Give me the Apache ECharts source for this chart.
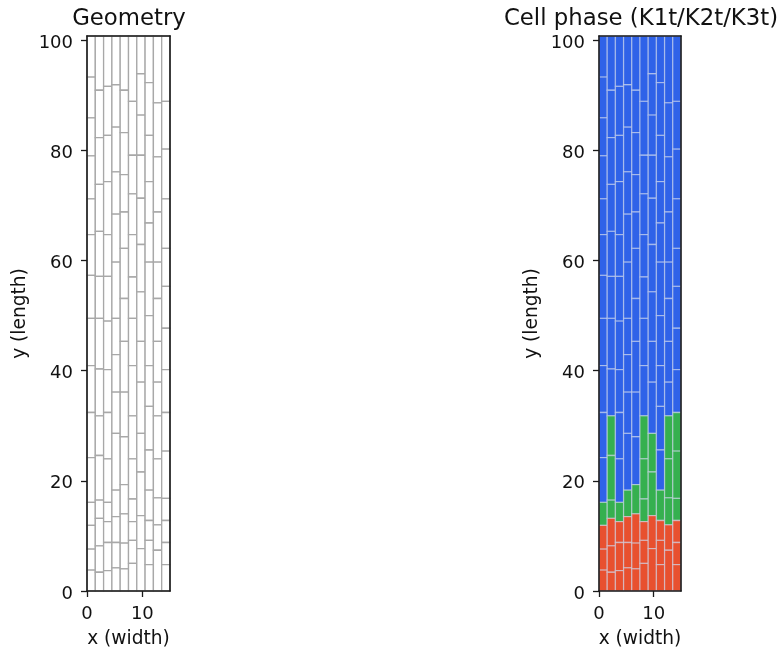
<!DOCTYPE html>
<html><head><meta charset="utf-8">
<script src="https://cdn.jsdelivr.net/npm/echarts@6/dist/echarts.min.js"></script>
<style>html,body{margin:0;padding:0;background:#fff}#c{width:779px;height:651px}</style></head>
<body><div id="c"></div>
<script>
const xTicks=[0,10];
const yTicks=[0,20,40,60,80,100];
const colWidth=1.5;
const col1=[93.3,85.9,79.0,71.2,64.7,57.3,49.5,40.9,32.4,24.2,16.1,11.9,7.6,3.8];
const col2=[90.9,82.3,73.8,65.3,57.1,49.5,40.3,31.8,24.6,16.5,13.2,8.2,3.4];
const col3=[91.6,82.7,74.3,64.7,57.1,49.0,40.2,32.4,24.0,16.1,12.6,8.8,3.7];
const col4=[91.9,84.2,76.1,68.4,59.7,49.5,42.9,36.1,28.6,18.3,13.5,8.8,4.2];
const col5=[90.9,83.2,75.6,68.8,62.2,53.1,45.3,36.1,28.0,19.3,14.0,8.7,4.0];
const col6=[88.9,79.1,72.1,64.7,57.0,49.5,40.9,31.8,24.0,16.7,12.6,9.2,5.0];
const col7=[93.9,86.4,79.1,71.3,62.9,54.3,45.3,37.9,28.6,21.6,13.7,7.7];
const col8=[92.3,82.7,74.3,66.8,59.7,50.0,40.9,33.5,25.6,18.3,12.8,9.2,4.8];
const col9=[88.6,78.8,68.8,59.7,53.1,45.3,37.9,31.8,24.0,16.9,12.0,7.4];
const col10=[88.9,80.2,71.2,62.2,55.3,47.7,40.2,32.4,25.4,16.8,12.8,8.8,4.8];
const k1Tops=[11.9,13.2,12.6,13.5,14.0,12.6,13.7,12.8,12.0,12.8];
const k2Tops=[16.1,31.8,16.1,18.3,19.3,31.8,28.6,18.3,31.8,32.4];
const columns=[col1,col2,col3,col4,col5,col6,col7,col8,col9,col10];
const yMax=100.75, xMax=15;
const phaseColors=['#2f62e8','#35b04f','#e8502f'];

const cells=[];
columns.forEach((c,i)=>{
  const edges=[yMax,...c,0];
  for(let j=0;j<edges.length-1;j++){
    const top=edges[j],bot=edges[j+1];
    const phase=top<=k1Tops[i]?2:top<=k2Tops[i]?1:0;
    cells.push([i*colWidth,(i+1)*colWidth,bot,top,phase]);
  }
});
const render=(filled)=>(params,api)=>{
  const p0=api.coord([api.value(0),api.value(3)]);
  const p1=api.coord([api.value(1),api.value(2)]);
  return {type:'rect',shape:{x:p0[0],y:p0[1],width:p1[0]-p0[0],height:p1[1]-p0[1]},
    style:{fill:filled?phaseColors[api.value(4)]:'#fff',
           stroke:filled?'rgba(205,215,235,0.55)':'#a8a8a8',lineWidth:1.3}};
};
const font='"DejaVu Sans"';
const fs=18.6;
const tickFs=18;
const line={show:true,onZero:false,lineStyle:{color:'#1a1a1a',width:1.6}};
function xAxes(g){return [
 {gridIndex:g,type:'value',min:0,max:xMax,position:'bottom',z:5,axisLine:line,splitLine:{show:false},
  axisTick:{show:true,length:6,inside:false,lineStyle:{color:'#1a1a1a',width:1.3},customValues:xTicks},
  axisLabel:{show:true,customValues:xTicks,fontFamily:font,fontSize:tickFs,color:'#111',margin:14},
  name:'x (width)',nameLocation:'middle',nameGap:39,nameTextStyle:{fontFamily:font,fontSize:fs,color:'#111'}},
 {gridIndex:g,type:'value',min:0,max:xMax,position:'top',z:5,axisLine:line,axisTick:{show:false},axisLabel:{show:false},splitLine:{show:false}}
];}
function yAxes(g){return [
 {gridIndex:g,type:'value',min:0,max:yMax,position:'left',z:5,axisLine:line,splitLine:{show:false},
  axisTick:{show:true,length:6,inside:false,lineStyle:{color:'#1a1a1a',width:1.3},customValues:yTicks},
  axisLabel:{show:true,customValues:yTicks,fontFamily:font,fontSize:tickFs,color:'#111',margin:14,verticalAlign:'top',lineHeight:6},
  name:'y (length)',nameLocation:'middle',nameGap:57,nameRotate:90,nameTextStyle:{fontFamily:font,fontSize:fs,color:'#111'}},
 {gridIndex:g,type:'value',min:0,max:yMax,position:'right',z:5,axisLine:line,axisTick:{show:false},axisLabel:{show:false},splitLine:{show:false}}
];}
const chart=echarts.init(document.getElementById('c'),null,{renderer:'canvas'});
chart.setOption({
 animation:false,backgroundColor:'#fff',
 title:[
  {text:'Geometry',left:124,top:3,textAlign:'center',textStyle:{fontFamily:font,fontSize:22.8,fontWeight:'normal',color:'#111'}},
  {text:'Cell phase (K1t/K2t/K3t)',left:636,top:3,textAlign:'center',textStyle:{fontFamily:font,fontSize:22.8,fontWeight:'normal',color:'#111'}}
 ],
 grid:[{left:87,width:83,top:36,height:555,outerBoundsMode:'none'},{left:599,width:82,top:36,height:555,outerBoundsMode:'none'}],
 xAxis:[...xAxes(0),...xAxes(1)],
 yAxis:[...yAxes(0),...yAxes(1)],
 series:[
  {type:'custom',xAxisIndex:0,yAxisIndex:0,data:cells,renderItem:render(false),encode:{x:[0,1],y:[2,3]},clip:false,silent:true},
  {type:'custom',xAxisIndex:2,yAxisIndex:2,data:cells,renderItem:render(true),encode:{x:[0,1],y:[2,3]},clip:false,silent:true}
 ]
});
</script></body></html>
